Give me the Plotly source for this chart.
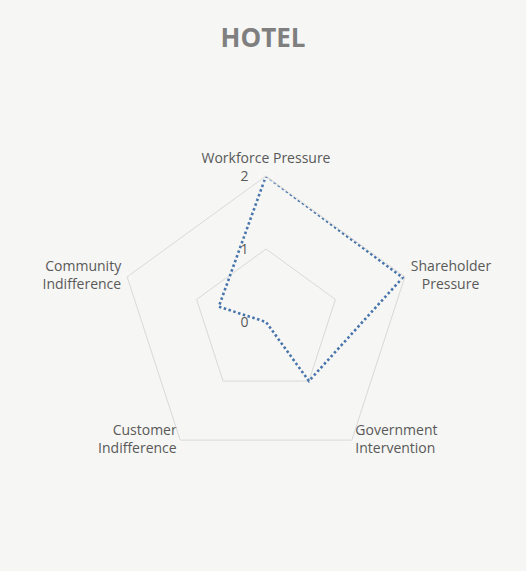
import plotly.graph_objects as go

categories = ["Workforce Pressure", "Shareholder Pressure", "Government Intervention",
              "Customer Indifference", "Community Indifference"]
category_labels = ["Workforce Pressure", "Shareholder<br>\u00a0\u00a0\u00a0Pressure",
                   "Government<br>Intervention", "Customer<br>\u00a0Indifference",
                   "Community<br>Indifference"]
label_positions = ["top center", "middle right", "middle right", "middle left", "middle left"]
values = [2.0, 1.97, 1.0, 0.0, 0.68]
radial_ticks = [0, 1, 2]
r_max = radial_ticks[-1]

W, H = 526, 571
cx, cy, R = 266, 322, 146
label_pad = [13, 8, 4, 4, 8]  # invisible marker sizes that space labels off the vertices

fig = go.Figure()
fig.add_trace(go.Scatterpolar(
    r=values + [values[0]],
    theta=categories + [categories[0]],
    mode="lines",
    line=dict(color="#4874ac", width=2.6, dash="2.5px,2.5px"),
    showlegend=False,
    hoverinfo="skip",
))
# category labels placed at the outer ring vertices
fig.add_trace(go.Scatterpolar(
    r=[r_max] * len(categories),
    theta=categories,
    mode="markers+text",
    marker=dict(size=label_pad, color="rgba(0,0,0,0)"),
    text=category_labels,
    textposition=label_positions,
    textfont=dict(family="Open Sans, DejaVu Sans, sans-serif", size=14, color="#595959"),
    cliponaxis=False,
    showlegend=False,
    hoverinfo="skip",
))

fig.update_layout(
    width=W, height=H,
    paper_bgcolor="#f6f6f4",
    plot_bgcolor="#f6f6f4",
    margin=dict(l=0, r=0, t=0, b=0),
    font=dict(family="Open Sans, DejaVu Sans, sans-serif", size=14, color="#595959"),
    title=dict(text="<b>HOTEL</b>", x=0.5, xanchor="center", y=1 - 38 / H, yanchor="middle",
               font=dict(family="Open Sans, DejaVu Sans, sans-serif", size=26, color="#7f7f7f")),
    polar=dict(
        bgcolor="#f6f6f4",
        gridshape="linear",
        domain=dict(x=[(cx - R) / W, (cx + R) / W], y=[(H - cy - R) / H, (H - cy + R) / H]),
        radialaxis=dict(
            range=[0, r_max], tickmode="array", tickvals=radial_ticks,
            ticktext=[str(t) for t in radial_ticks],
            angle=90, tickangle=90, side="counterclockwise",
            showline=False, ticks="outside", ticklen=12, tickcolor="rgba(0,0,0,0)",
            gridcolor="#d9d9d9", gridwidth=1,
            tickfont=dict(size=14, color="#595959"),
        ),
        angularaxis=dict(
            rotation=90, direction="clockwise",
            showgrid=False, showline=True, linecolor="#d9d9d9", linewidth=1,
            ticks="", showticklabels=False,
        ),
    ),
)

fig.write_html("out.html", config={"displayModeBar": False},
               post_script="document.body.style.margin='0';")
